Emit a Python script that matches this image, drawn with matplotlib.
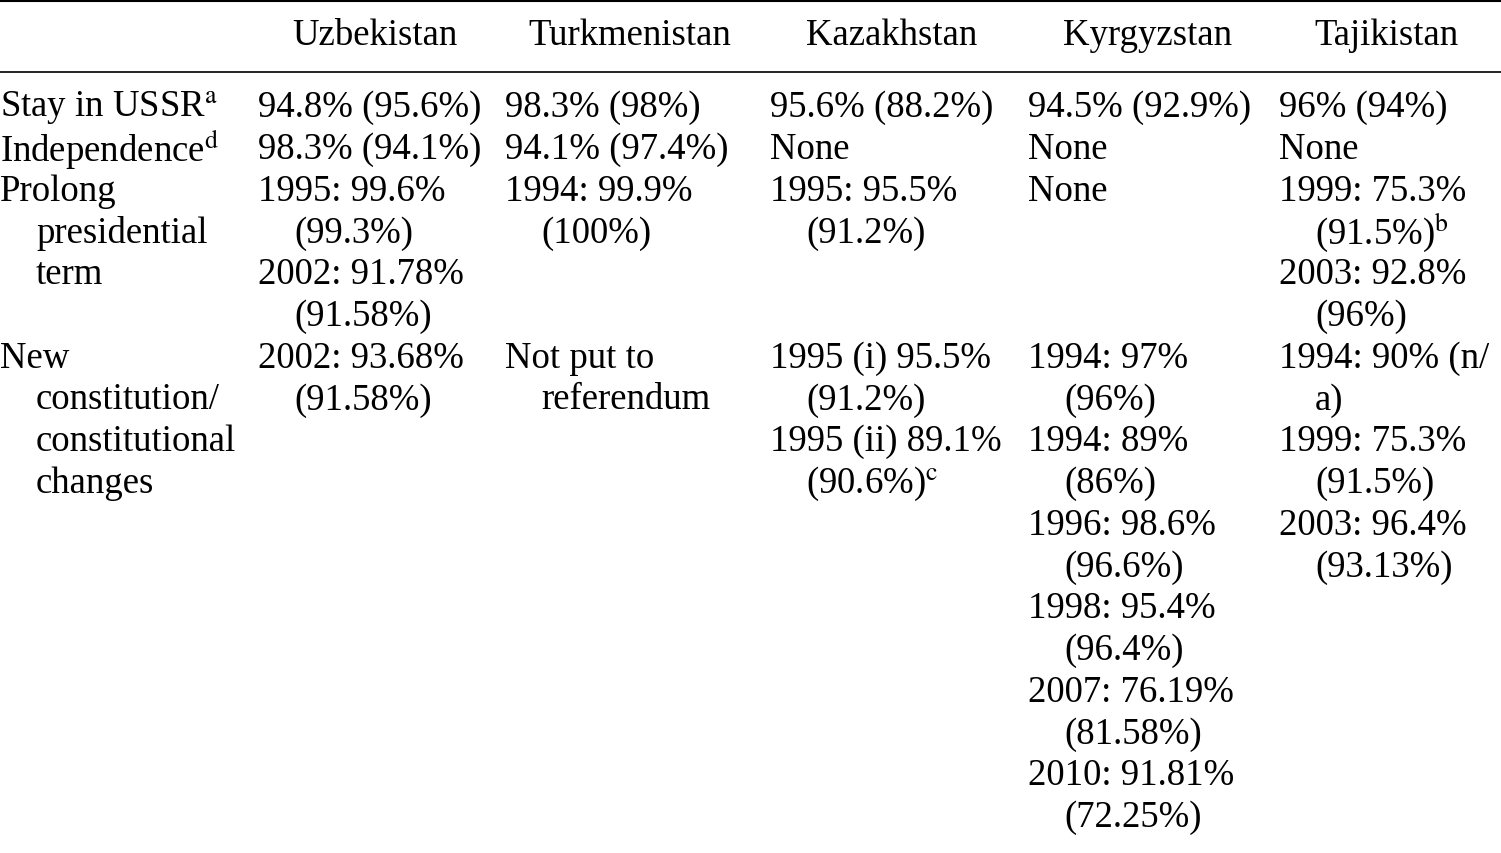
import matplotlib
matplotlib.use("Agg")
import matplotlib.pyplot as plt

plt.rcParams['font.family'] = ['Liberation Serif', 'DejaVu Serif']
plt.rcParams['mathtext.fontset'] = 'stix'

countries = ["Uzbekistan", "Turkmenistan", "Kazakhstan", "Kyrgyzstan", "Tajikistan"]
# (line index, text, indented)
row_labels = [(0, "Stay in USSR$^{\\mathrm{a}}$", False), (1, "Independence$^{\\mathrm{d}}$", False),
              (2, "Prolong", False), (3, "presidential", True), (4, "term", True),
              (6, "New", False), (7, "constitution/", True), (8, "constitutional", True), (9, "changes", True)]
uzbekistan = [(0, "94.8% (95.6%)", False), (1, "98.3% (94.1%)", False), (2, "1995: 99.6%", False),
              (3, "(99.3%)", True), (4, "2002: 91.78%", False), (5, "(91.58%)", True),
              (6, "2002: 93.68%", False), (7, "(91.58%)", True)]
turkmenistan = [(0, "98.3% (98%)", False), (1, "94.1% (97.4%)", False), (2, "1994: 99.9%", False),
                (3, "(100%)", True), (6, "Not put to", False), (7, "referendum", True)]
kazakhstan = [(0, "95.6% (88.2%)", False), (1, "None", False), (2, "1995: 95.5%", False),
              (3, "(91.2%)", True), (6, "1995 (i) 95.5%", False), (7, "(91.2%)", True),
              (8, "1995 (ii) 89.1%", False), (9, "(90.6%)$^{\\mathrm{c}}$", True)]
kyrgyzstan = [(0, "94.5% (92.9%)", False), (1, "None", False), (2, "None", False),
              (6, "1994: 97%", False), (7, "(96%)", True), (8, "1994: 89%", False), (9, "(86%)", True),
              (10, "1996: 98.6%", False), (11, "(96.6%)", True), (12, "1998: 95.4%", False),
              (13, "(96.4%)", True), (14, "2007: 76.19%", False), (15, "(81.58%)", True),
              (16, "2010: 91.81%", False), (17, "(72.25%)", True)]
tajikistan = [(0, "96% (94%)", False), (1, "None", False), (2, "1999: 75.3%", False),
              (3, "(91.5%)$^{\\mathrm{b}}$", True), (4, "2003: 92.8%", False), (5, "(96%)", True),
              (6, "1994: 90% (n/", False), (7, "a)", True), (8, "1999: 75.3%", False),
              (9, "(91.5%)", True), (10, "2003: 96.4%", False), (11, "(93.13%)", True)]

columns = [row_labels, uzbekistan, turkmenistan, kazakhstan, kyrgyzstan, tajikistan]
col_x = [0, 258, 505, 770, 1028, 1279]
header_x = [375, 630, 892, 1147, 1386]

fig = plt.figure(figsize=(15.01, 8.54), dpi=100)
ax = fig.add_axes([0, 0, 1, 1])
ax.set_xlim(0, 1501)
ax.set_ylim(854, 0)
ax.axis('off')

fs = 26.5
ax.plot([0, 1501], [1.5, 1.5], color='black', lw=1.5)
ax.plot([0, 1501], [73, 73], color='black', lw=1.2)
for c, x in zip(countries, header_x):
    ax.text(x, 36, c, ha='center', va='center', fontsize=fs)

y0, dy, ind = 108, 41.75, 36
for col, x in zip(columns, col_x):
    for li, txt, indent in col:
        ax.text(x + (ind if indent else 0), y0 + li * dy, txt, ha='left', va='center', fontsize=fs)

fig.savefig("out.png", dpi=100)
